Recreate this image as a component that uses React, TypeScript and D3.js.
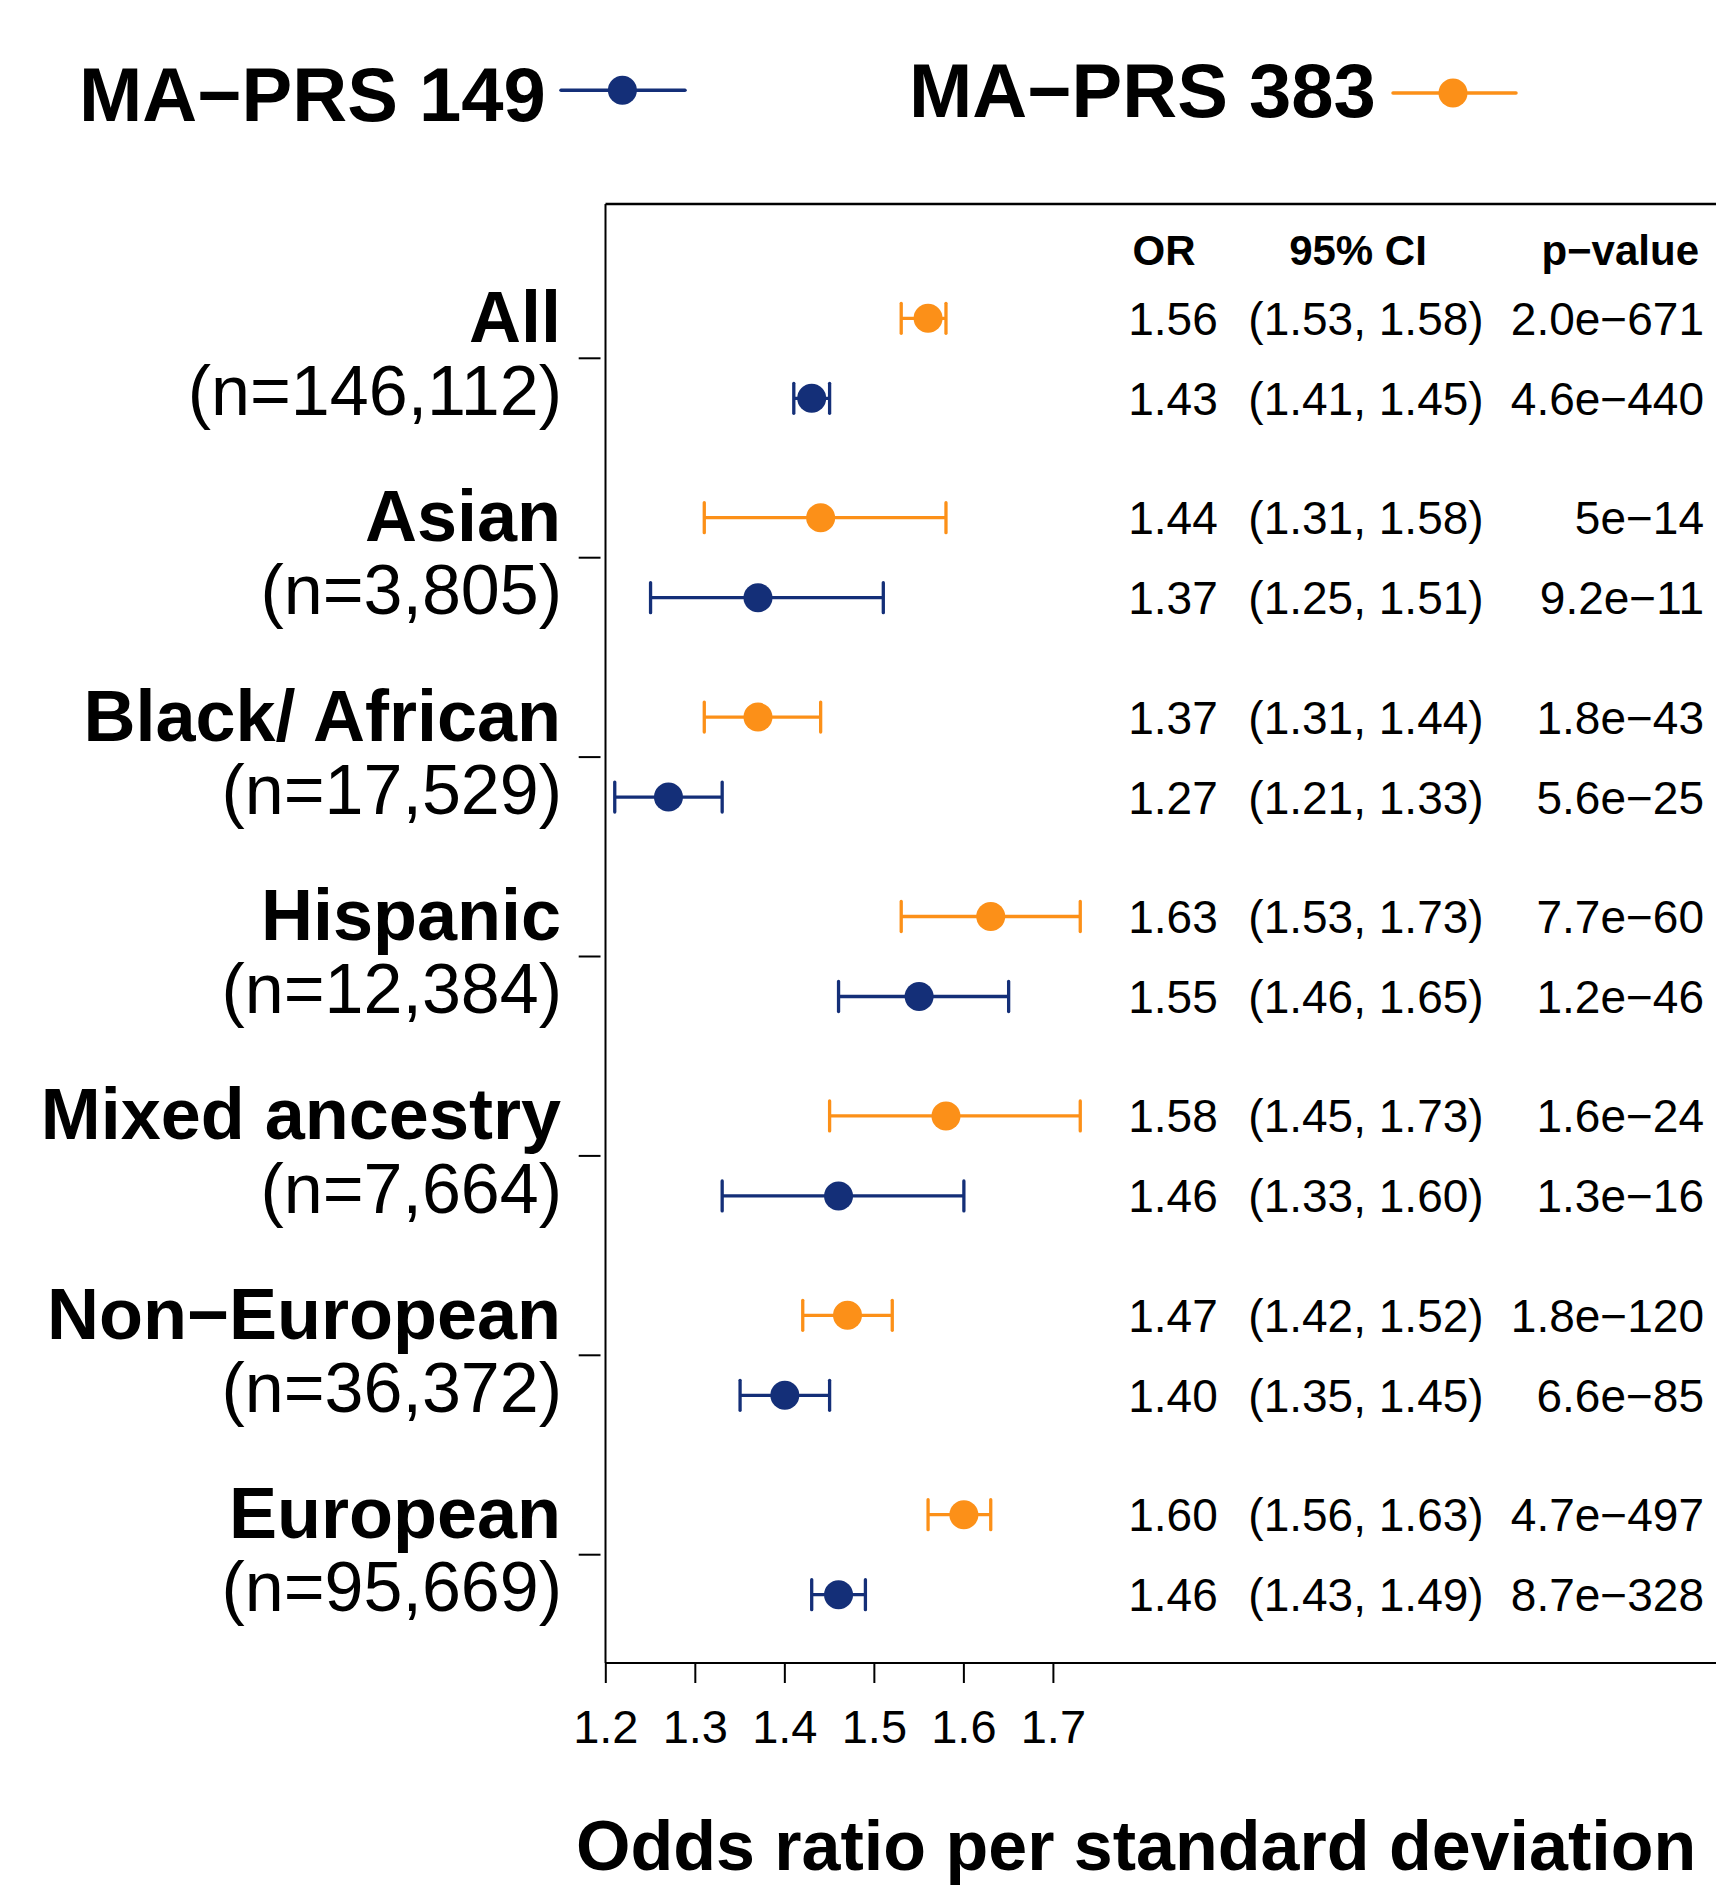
import React from "react";
import * as d3 from "d3";

const groups = ["All", "Asian", "Black/ African", "Hispanic", "Mixed ancestry", "Non\u2212European", "European"];
const groupN = ["(n=146,112)", "(n=3,805)", "(n=17,529)", "(n=12,384)", "(n=7,664)", "(n=36,372)", "(n=95,669)"];

// MA-PRS 383 (orange)
const or383 = [1.56, 1.44, 1.37, 1.63, 1.58, 1.47, 1.60];
const lo383 = [1.53, 1.31, 1.31, 1.53, 1.45, 1.42, 1.56];
const hi383 = [1.58, 1.58, 1.44, 1.73, 1.73, 1.52, 1.63];
const p383 = ["2.0e\u2212671", "5e\u221214", "1.8e\u221243", "7.7e\u221260", "1.6e\u221224", "1.8e\u2212120", "4.7e\u2212497"];

// MA-PRS 149 (blue)
const or149 = [1.43, 1.37, 1.27, 1.55, 1.46, 1.40, 1.46];
const lo149 = [1.41, 1.25, 1.21, 1.46, 1.33, 1.35, 1.43];
const hi149 = [1.45, 1.51, 1.33, 1.65, 1.60, 1.45, 1.49];
const p149 = ["4.6e\u2212440", "9.2e\u221211", "5.6e\u221225", "1.2e\u221246", "1.3e\u221216", "6.6e\u221285", "8.7e\u2212328"];

const xTicks = [1.2, 1.3, 1.4, 1.5, 1.6, 1.7];
const headers = ["OR", "95% CI", "p\u2212value"];
const seriesNames = ["MA\u2212PRS 149", "MA\u2212PRS 383"];

const BLUE = "#142F78";
const ORANGE = "#FC9018";
const FONT = "'Liberation Sans', Arial, Helvetica, sans-serif";

export default function App() {
  const W = 1716;
  const H = 1887;
  const x = d3.scaleLinear().domain([1.2, 1.7]).range([605.8, 1053.4]);
  const y = d3.scaleLinear().domain([0, 6]).range([358.3, 1554.7]);
  const frameLeft = 605.5;
  const frameTop = 204;
  const frameBottom = 1663;
  const off = 40;
  const r = 14.5;
  const cap = 15;
  const fmt = d3.format(".2f");

  const series = [
    { or: or383, lo: lo383, hi: hi383, p: p383, color: ORANGE, dy: -off },
    { or: or149, lo: lo149, hi: hi149, p: p149, color: BLUE, dy: off },
  ];

  return (
    <svg width={W} height={H} style={{ position: "absolute", left: 0, top: 0, background: "#fff" }} fontFamily={FONT}>
      <rect x={0} y={0} width={W} height={H} fill="#fff" />
      {/* Legend */}
      <text x={79} y={120.7} fontSize={76} fontWeight="bold">{seriesNames[0]}</text>
      <line x1={561} x2={685} y1={90.3} y2={90.3} stroke={BLUE} strokeWidth={3.5} strokeLinecap="round" />
      <circle cx={622.4} cy={90.3} r={r} fill={BLUE} />
      <text x={909} y={117.3} fontSize={76} fontWeight="bold">{seriesNames[1]}</text>
      <line x1={1393} x2={1516} y1={93} y2={93} stroke={ORANGE} strokeWidth={3.5} strokeLinecap="round" />
      <circle cx={1453} cy={93} r={r} fill={ORANGE} />

      {/* Frame */}
      <line x1={frameLeft} x2={W + 20} y1={frameTop} y2={frameTop} stroke="#000" strokeWidth={2.4} />
      <line x1={frameLeft} x2={frameLeft} y1={frameTop} y2={frameBottom} stroke="#000" strokeWidth={2} />
      <line x1={frameLeft} x2={W + 20} y1={frameBottom} y2={frameBottom} stroke="#000" strokeWidth={2.2} />

      {/* X axis ticks */}
      {xTicks.map((t) => (
        <g key={t}>
          <line x1={x(t)} x2={x(t)} y1={frameBottom} y2={1683} stroke="#000" strokeWidth={2} />
          <text x={x(t)} y={1743} fontSize={47} textAnchor="middle">{t.toFixed(1)}</text>
        </g>
      ))}
      <text x={576} y={1870} fontSize={70} fontWeight="bold" textAnchor="start">Odds ratio per standard deviation</text>

      {/* Y axis ticks and labels */}
      {groups.map((g, i) => (
        <g key={g}>
          <line x1={578.7} x2={600.5} y1={y(i)} y2={y(i)} stroke="#000" strokeWidth={2} />
          <text x={561} y={y(i) - 16.6} fontSize={72} fontWeight="bold" textAnchor="end">{g}</text>
          <text x={562} y={y(i) + 56.6} fontSize={70} textAnchor="end">{groupN[i]}</text>
        </g>
      ))}

      {/* Column headers */}
      <text x={1164} y={265} fontSize={42} fontWeight="bold" textAnchor="middle">{headers[0]}</text>
      <text x={1358} y={265} fontSize={42} fontWeight="bold" textAnchor="middle">{headers[1]}</text>
      <text x={1699} y={265} fontSize={42} fontWeight="bold" textAnchor="end">{headers[2]}</text>

      {/* Points, CIs, texts */}
      {series.map((s, si) =>
        groups.map((g, i) => {
          const cy = y(i) + s.dy;
          return (
            <g key={`${si}-${i}`}>
              <line x1={x(s.lo[i])} x2={x(s.hi[i])} y1={cy} y2={cy} stroke={s.color} strokeWidth={3.3} />
              <line x1={x(s.lo[i])} x2={x(s.lo[i])} y1={cy - cap} y2={cy + cap} stroke={s.color} strokeWidth={3.3} strokeLinecap="round" />
              <line x1={x(s.hi[i])} x2={x(s.hi[i])} y1={cy - cap} y2={cy + cap} stroke={s.color} strokeWidth={3.3} strokeLinecap="round" />
              <circle cx={x(s.or[i])} cy={cy} r={r} fill={s.color} />
              <text x={1173} y={cy + 16.5} fontSize={46} textAnchor="middle">{fmt(s.or[i])}</text>
              <text x={1366} y={cy + 16.5} fontSize={46} textAnchor="middle">{`(${fmt(s.lo[i])}, ${fmt(s.hi[i])})`}</text>
              <text x={1704} y={cy + 16.5} fontSize={46} textAnchor="end">{s.p[i]}</text>
            </g>
          );
        })
      )}
    </svg>
  );
}
